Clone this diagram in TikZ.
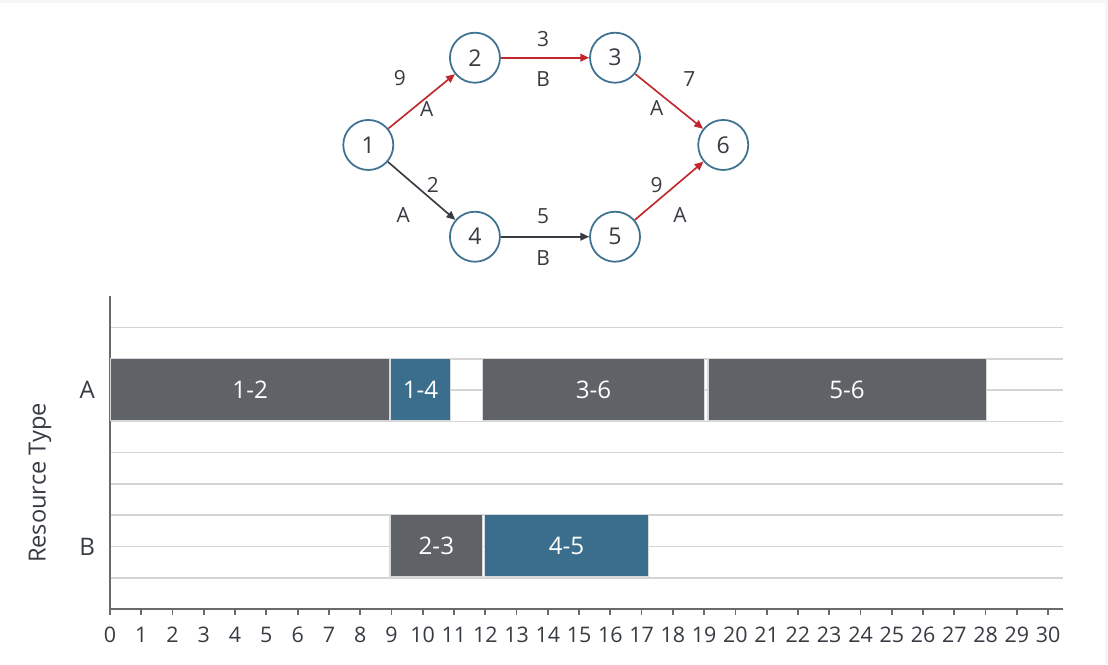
\documentclass[tikz,border=0pt]{standalone}
\usepackage{fontspec}
\setmainfont{Open Sans}
\usetikzlibrary{arrows.meta}

\definecolor{barGray}{HTML}{5F6266}
\definecolor{barBlue}{HTML}{3B6E8D}
\definecolor{critRed}{HTML}{C1272D}
\definecolor{inkGray}{HTML}{373C42}
\definecolor{ringBlue}{HTML}{3F7190}
\definecolor{gridGray}{HTML}{D4D4D4}
\definecolor{axisGray}{HTML}{6A6A6A}
\definecolor{edgeGray}{HTML}{D6DADD}

\begin{document}
\begin{tikzpicture}[
  event/.style={draw=ringBlue, line width=1.6pt, circle, minimum size=1.6cm, inner sep=0pt, text=inkGray, font=\fontsize{21}{21}\selectfont},
  lbl/.style={text=inkGray, font=\fontsize{19}{19}\selectfont},
  crit/.style={critRed, line width=1.5pt, -{Triangle[length=8pt,width=7pt]}},
  free/.style={inkGray, line width=1.5pt, -{Triangle[length=8pt,width=7pt]}},
  task/.style={draw=edgeGray, line width=1.2pt, text=white, font=\fontsize{22}{22}\selectfont},
  gridline/.style={gridGray, line width=1.4pt},
  axis/.style={axisGray, line width=1.6pt},
  rowlbl/.style={text=inkGray, font=\fontsize{22}{22}\selectfont},
  ticklbl/.style={text=inkGray, font=\fontsize{19.5}{19.5}\selectfont}
]

% Page
\useasboundingbox (-3.518,-1.759) rectangle (31.915,19.476);
\fill[gray!7] (-3.518,-1.759) rectangle (31.915,19.476);
\fill[white] (-3.518,-1.759) rectangle (31.82,19.38);

% Network (events)
\node[event] (n1) at (8.26,14.84) {1};
\node[event] (n2) at (11.67,17.63) {2};
\node[event] (n3) at (16.15,17.63) {3};
\node[event] (n4) at (11.67,11.906) {4};
\node[event] (n5) at (16.15,11.906) {5};
\node[event] (n6) at (19.61,14.84) {6};

% Activities
\draw[crit] (n1) -- (n2);
\draw[crit] (n2) -- (n3);
\draw[crit] (n3) -- (n6);
\draw[free] (n1) -- (n4);
\draw[free] (n4) -- (n5);
\draw[crit] (n5) -- (n6);

% Durations and resources
\node[lbl] (d12) at (9.27,16.97) {9};
\node[lbl] (r12) at (10.13,15.99) {A};
\node[lbl] (d23) at (13.85,18.22) {3};
\node[lbl] (r23) at (13.85,16.94) {B};
\node[lbl] (d36) at (18.53,16.94) {7};
\node[lbl] (r36) at (17.48,16.02) {A};
\node[lbl] (d14) at (10.32,13.56) {2};
\node[lbl] (r14) at (9.38,12.6) {A};
\node[lbl] (d45) at (13.85,12.55) {5};
\node[lbl] (r45) at (13.85,11.22) {B};
\node[lbl] (d56) at (17.48,13.56) {9};
\node[lbl] (r56) at (18.23,12.6) {A};

% Grid and axes
\foreach \y in {1,...,9}
  \draw[gridline] (0,\y) -- (30.47,\y);
\draw[axis] (0,10) -- (0,0) -- (30.47,0);
\foreach \x in {0,...,30} {
  \draw[axis] (\x,0) -- (\x,-0.2);
  \node[ticklbl] (t\x) at (\x,-0.83) {\x};
}

% Resource loading
\node[task, fill=barGray, minimum width=8.92cm, minimum height=2cm, anchor=south west] (b12) at (0,6) {1-2};
\node[task, fill=barBlue, minimum width=1.92cm, minimum height=2cm, anchor=south west] (b14) at (8.95,6) {1-4};
\node[task, fill=barGray, minimum width=7.12cm, minimum height=2cm, anchor=south west] (b36) at (11.88,6) {3-6};
\node[task, fill=barGray, minimum width=8.9cm, minimum height=2cm, anchor=south west] (b56) at (19.1,6) {5-6};
\node[task, fill=barGray, minimum width=2.97cm, minimum height=2cm, anchor=south west] (b23) at (8.93,1) {2-3};
\node[task, fill=barBlue, minimum width=5.24cm, minimum height=2cm, anchor=south west] (b45) at (11.96,1) {4-5};

% Labels
\node[rowlbl] (rA) at (-0.73,7) {A};
\node[rowlbl] (rB) at (-0.73,2) {B};
\node[rowlbl, rotate=90, font=\fontsize{21.5}{21.5}\selectfont] (ylab) at (-2.24,4.03) {Resource Type};

\end{tikzpicture}
\end{document}
